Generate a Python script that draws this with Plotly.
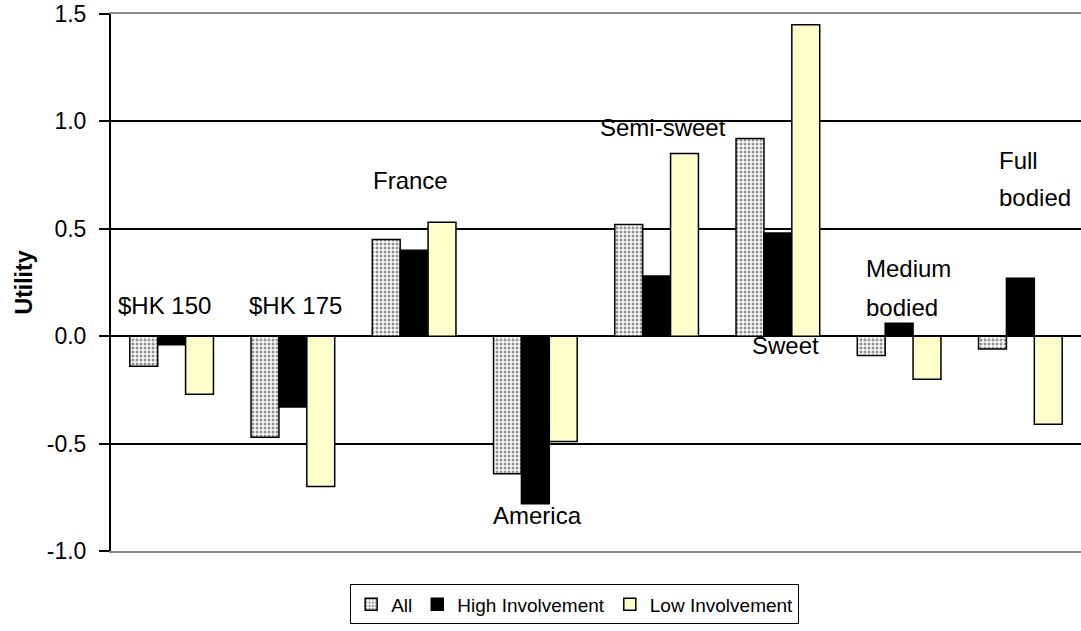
import plotly.graph_objects as go

# Attribute levels (one group of bars each)
categories = ["$HK 150", "$HK 175", "France", "America",
              "Semi-sweet", "Sweet", "Medium bodied", "Full bodied"]

# Part-worth utilities per segment
util_all = [-0.14, -0.47, 0.45, -0.64, 0.52, 0.92, -0.09, -0.06]
util_high = [-0.04, -0.33, 0.40, -0.78, 0.28, 0.48, 0.06, 0.27]
util_low = [-0.27, -0.70, 0.53, -0.49, 0.85, 1.45, -0.20, -0.41]

y_ticks = [-1.0, -0.5, 0.0, 0.5, 1.0, 1.5]

FONT = "Liberation Sans, Arial, sans-serif"
outline = dict(color="#000000", width=1.5)

fig = go.Figure()
fig.add_trace(go.Bar(
    name="All", x=categories, y=util_all,
    marker=dict(color="white", line=outline,
                pattern=dict(shape=".", fgcolor="#222222", bgcolor="#ffffff",
                             size=4, solidity=0.45)),
))
fig.add_trace(go.Bar(
    name="High Involvement", x=categories, y=util_high,
    marker=dict(color="#000000", line=outline),
))
fig.add_trace(go.Bar(
    name="Low Involvement", x=categories, y=util_low,
    marker=dict(color="#FFFFCC", line=outline),
))

# Level labels placed inside the plot next to their bar groups
# (category, lines, x shift px, anchor, y values per line)
label_specs = [
    (categories[0], ["$HK 150"], -7, "center", [0.144]),
    (categories[1], ["$HK 175"], 3, "center", [0.144]),
    (categories[2], ["France"], -4, "center", [0.726]),
    (categories[3], ["America"], 2, "center", [-0.837]),
    (categories[4], ["Semi-sweet"], 6, "center", [0.972]),
    (categories[5], ["Sweet"], 8, "center", [-0.042]),
    (categories[6], ["Medium", "bodied"], -35, "left", [0.316, 0.135]),
    (categories[7], ["Full", "bodied"], -23, "left", [0.82, 0.645]),
]
annotations = []
for cat, lines, dx, anchor, ys in label_specs:
    for line, yv in zip(lines, ys):
        annotations.append(dict(
            x=cat, y=yv, xref="x", yref="y", text=line, showarrow=False,
            xanchor=anchor, yanchor="middle", xshift=dx,
            font=dict(family=FONT, size=24, color="#000000"),
        ))

fig.update_layout(
    width=1081, height=631,
    margin=dict(l=111, r=0, t=14, b=80),
    paper_bgcolor="white", plot_bgcolor="white",
    barmode="group", bargap=0.31, bargroupgap=0,
    font=dict(family=FONT, color="#000000"),
    annotations=annotations,
    legend=dict(
        orientation="h", x=0.478, xanchor="center", y=-0.062, yanchor="top",
        bordercolor="#000000", borderwidth=1, bgcolor="white",
        font=dict(family=FONT, size=19, color="#000000"),
        itemwidth=30, tracegroupgap=0,
    ),
    showlegend=True,
)
fig.update_xaxes(
    showticklabels=False, ticks="", showgrid=False,
    showline=True, linecolor="#888888", linewidth=2, mirror=True,
    zeroline=False,
)
fig.update_yaxes(
    range=[-1.0, 1.5], tickvals=y_ticks,
    ticktext=[f"{v:.1f}" for v in y_ticks],
    tickfont=dict(family=FONT, size=23, color="#000000"),
    ticks="outside", ticklen=10, tickwidth=2, tickcolor="#000000",
    ticklabelstandoff=8,
    showline=True, linecolor="#000000", linewidth=2,
    showgrid=True, gridcolor="#000000", gridwidth=1.6,
    zeroline=True, zerolinecolor="#000000", zerolinewidth=2,
    title=dict(text="<b>Utility</b>", font=dict(family=FONT, size=23, color="#000000"),
               standoff=8),
)

fig.write_html("out.html")
